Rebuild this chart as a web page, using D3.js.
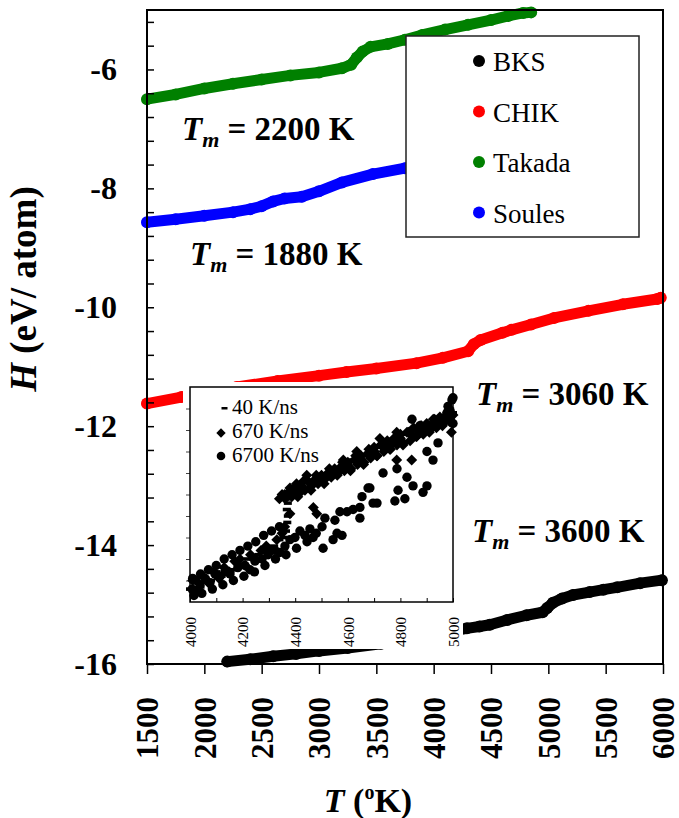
<!DOCTYPE html>
<html>
<head>
<meta charset="utf-8">
<script src="https://cdn.jsdelivr.net/npm/d3@7"></script>
<style>
  html, body { margin: 0; padding: 0; background: #fff; }
  svg { display: block; font-family: "Liberation Serif", "Times New Roman", serif; }
</style>
</head>
<body>
<svg id="chart" width="679" height="818"></svg>
<script>
// ---- data: [T (K), H (eV/atom)] ----
const bks = [[2200,-15.96],[2400,-15.92],[2600,-15.87],[2800,-15.83],[3000,-15.78],[3250,-15.73],
  [3540,-15.66],[3800,-15.58],[4050,-15.49],[4290,-15.40],[4400,-15.37],[4490,-15.34],[4640,-15.26],
  [4810,-15.18],[4950,-15.13],[4990,-15.06],[5040,-14.97],[5120,-14.90],[5215,-14.84],[5360,-14.79],
  [5480,-14.75],[5600,-14.71],[5800,-14.64],[5990,-14.59]];
const chik = [[1500,-11.62],[1800,-11.51],[2100,-11.40],[2285,-11.34],[2640,-11.24],[3000,-11.15],
  [3240,-11.09],[3500,-11.03],[3850,-10.94],[4080,-10.85],[4300,-10.74],[4350,-10.62],[4410,-10.55],
  [4600,-10.43],[4680,-10.38],[4850,-10.29],[5050,-10.18],[5350,-10.06],[5650,-9.95],[5950,-9.86],[5980,-9.84]];
const takada = [[1500,-6.50],[1750,-6.42],[2000,-6.32],[2250,-6.24],[2500,-6.17],[2750,-6.10],
  [3000,-6.05],[3200,-5.98],[3280,-5.92],[3330,-5.80],[3380,-5.70],[3450,-5.62],[3600,-5.57],
  [3750,-5.50],[3900,-5.42],[4100,-5.33],[4300,-5.25],[4500,-5.17],[4650,-5.10],[4780,-5.05],[4850,-5.04]];
const soules = [[1500,-8.57],[1750,-8.52],[2000,-8.46],[2250,-8.40],[2400,-8.35],[2500,-8.30],
  [2600,-8.22],[2700,-8.17],[2850,-8.14],[3000,-8.05],[3200,-7.90],[3470,-7.76],[3750,-7.66],[3900,-7.60]];

const seriesNames = ["BKS", "CHIK", "Takada", "Soules"];
const seriesColors = ["#000000", "#ff0000", "#008000", "#0000ff"];
const meltTemps = ["2200", "1880", "3060", "3600"];

const xTicks = [1500, 2000, 2500, 3000, 3500, 4000, 4500, 5000, 5500, 6000];
const yTickLabels = [-16, -14, -12, -10, -8, -6];

// inset: BKS at three cooling rates
const rateNames = ["40 K/ns", "670 K/ns", "6700 K/ns"];
const rate40 = [[4000,-15.84],[4020,-15.80],[4040,-15.83],[4060,-15.79],[4080,-15.80],[4100,-15.76],
  [4120,-15.78],[4140,-15.75],[4160,-15.75],[4180,-15.72],[4200,-15.73],[4220,-15.70],[4240,-15.70],
  [4260,-15.68],[4280,-15.67],[4300,-15.65],[4320,-15.64],[4340,-15.61],[4355,-15.60],[4365,-15.57],
  [4370,-15.53],[4372,-15.50],[4368,-15.47],[4372,-15.44],[4365,-15.42],[4380,-15.41],[4400,-15.40],
  [4420,-15.38],[4440,-15.37],[4460,-15.35],[4480,-15.34],[4500,-15.32],[4520,-15.31],[4540,-15.29],
  [4560,-15.28],[4580,-15.27],[4600,-15.26],[4620,-15.24],[4640,-15.23],[4660,-15.22],[4680,-15.21],
  [4700,-15.19],[4720,-15.18],[4740,-15.17],[4760,-15.16],[4780,-15.15],[4800,-15.14],[4820,-15.12],
  [4840,-15.11],[4860,-15.10],[4880,-15.09],[4900,-15.08],[4920,-15.07],[4940,-15.06],[4960,-15.05],
  [4980,-15.04],[5000,-15.02]];
const rate670 = [[4010,-15.80],[4030,-15.84],[4050,-15.78],[4070,-15.81],[4090,-15.76],[4110,-15.79],
  [4130,-15.74],[4150,-15.76],[4170,-15.71],[4190,-15.70],[4210,-15.73],[4230,-15.68],[4250,-15.70],
  [4270,-15.66],[4290,-15.64],[4310,-15.66],[4330,-15.61],[4350,-15.58],[4360,-15.55],[4380,-15.49],
  [4340,-15.42],[4360,-15.40],[4390,-15.38],[4405,-15.35],[4420,-15.39],[4444,-15.31],[4460,-15.35],
  [4469,-15.46],[4482,-15.49],[4490,-15.33],[4520,-15.31],[4550,-15.30],[4583,-15.24],[4600,-15.27],
  [4634,-15.20],[4650,-15.24],[4680,-15.21],[4700,-15.20],[4722,-15.14],[4740,-15.17],[4760,-15.16],
  [4786,-15.11],[4786,-15.24],[4800,-15.14],[4843,-15.24],[4840,-15.12],[4870,-15.10],[4900,-15.09],
  [4930,-15.07],[4960,-15.06],[4994,-15.11],[5000,-15.03],
  [4350,-15.40],[4375,-15.39],[4400,-15.37],[4425,-15.36],[4450,-15.34],[4475,-15.33],[4500,-15.31],
  [4525,-15.30],[4550,-15.28],[4575,-15.27],[4600,-15.25],[4625,-15.24],[4650,-15.22],[4675,-15.21],
  [4700,-15.18],[4725,-15.17],[4750,-15.15],[4775,-15.14],[4800,-15.12],[4825,-15.11],[4850,-15.09],
  [4875,-15.08],[4900,-15.07],[4925,-15.05],[4950,-15.04],[4975,-15.03],
  [4410,-15.41],[4460,-15.38],[4510,-15.35],[4560,-15.31],[4610,-15.29],[4660,-15.26],[4710,-15.22],
  [4760,-15.19],[4810,-15.17],[4860,-15.13],[4910,-15.11],[4960,-15.08],
  [4362,-15.42],[4387,-15.41],[4412,-15.39],[4437,-15.38],[4462,-15.36],[4487,-15.35],[4512,-15.33],
  [4537,-15.32],[4562,-15.30],[4587,-15.29],[4612,-15.28],[4637,-15.26],[4662,-15.25],[4687,-15.23],
  [4712,-15.22],[4737,-15.20],[4762,-15.19],[4787,-15.17],[4812,-15.16],[4837,-15.15],[4862,-15.13],
  [4887,-15.12],[4912,-15.10],[4937,-15.09],[4962,-15.07],[4987,-15.06],
  [4380,-15.37],[4430,-15.34],[4480,-15.31],[4530,-15.28],[4580,-15.25],[4630,-15.22],[4680,-15.19],
  [4730,-15.17],[4780,-15.14],[4830,-15.11],[4880,-15.08],[4930,-15.05],[4980,-15.02]];
const rate6700 = [[4008,-15.84],[4023,-15.80],[4038,-15.82],[4057,-15.79],[4076,-15.81],[4095,-15.77],
  [4114,-15.78],[4133,-15.76],[4152,-15.77],[4182,-15.74],[4209,-15.73],[4228,-15.75],[4247,-15.71],
  [4274,-15.70],[4297,-15.68],[4323,-15.66],[4342,-15.67],[4361,-15.64],[4380,-15.61],[4399,-15.60],
  [4418,-15.57],[4437,-15.59],[4456,-15.56],[4468,-15.60],[4502,-15.55],[4506,-15.65],[4513,-15.51],
  [4544,-15.61],[4551,-15.52],[4559,-15.58],[4570,-15.48],[4578,-15.59],[4597,-15.48],[4620,-15.47],
  [4646,-15.46],[4646,-15.51],[4654,-15.41],[4677,-15.37],[4684,-15.37],[4696,-15.44],[4711,-15.44],
  [4734,-15.30],[4779,-15.43],[4787,-15.28],[4791,-15.38],[4817,-15.42],[4825,-15.32],[4848,-15.36],
  [4886,-15.39],[4901,-15.36],[4901,-15.20],[4924,-15.24],[4943,-15.16],[4600,-15.26],[4700,-15.20],
  [4760,-15.17],[4800,-15.15],[4844,-15.05],[4874,-15.08],[4912,-15.08],[4951,-15.05],[4977,-15.02],
  [4981,-14.99],[4989,-15.01],[4996,-14.96],[5000,-14.95],[4990,-15.04],[5000,-15.07],
  [4015,-15.87],[4045,-15.86],[4085,-15.84],[4125,-15.82],[4165,-15.80],[4205,-15.78],[4245,-15.76],
  [4285,-15.73],[4325,-15.70],[4365,-15.68],[4405,-15.65],[4445,-15.62],[4480,-15.58],
  [4010,-15.79],[4040,-15.77],[4070,-15.75],[4100,-15.73],[4130,-15.70],[4160,-15.68],[4190,-15.66],
  [4220,-15.64],[4250,-15.62],[4280,-15.59],[4310,-15.57],[4340,-15.55]];
const insetTicks = [4000, 4100, 4200, 4300, 4400, 4500, 4600, 4700, 4800, 4900, 5000];

// ---- layout ----
const svg = d3.select("#chart");
const width = 679, height = 818;
const margin = {top: 10, right: 16, bottom: 154, left: 147};
const serif = "'Liberation Serif', 'Times New Roman', serif";

const x = d3.scaleLinear().domain([1500, 6000]).range([margin.left, width - margin.right]);
const y = d3.scaleLinear().domain([-16, -5]).range([height - margin.bottom, margin.top]);

// main curves (dense dots drawn as a thick band)
const line = d3.line().x(d => x(d[0])).y(d => y(d[1]));
const allSeries = [bks, chik, takada, soules];
allSeries.forEach((s, i) => {
    svg.append("path")
        .datum(s)
        .attr("fill", "none")
        .attr("stroke", seriesColors[i])
        .attr("stroke-width", 11)
        .attr("stroke-linecap", "round")
        .attr("stroke-linejoin", "round")
        .attr("d", line);
    svg.append("g").selectAll("circle")
        .data(s)
        .join("circle")
        .attr("cx", d => x(d[0]))
        .attr("cy", d => y(d[1]))
        .attr("r", 6)
        .attr("fill", seriesColors[i]);
});

// y axis, ticks pointing inside
const yTicks = d3.range(0, 28).map(i => Math.round((-16 + i * 0.4) * 10) / 10);
const yAxis = svg.append("g")
    .attr("transform", `translate(${margin.left},0)`)
    .call(d3.axisLeft(y).tickValues(yTicks).tickSizeInner(-7).tickSizeOuter(0).tickPadding(30)
        .tickFormat(d => yTickLabels.includes(d) ? String(d) : ""));
yAxis.attr("font-family", serif).attr("font-size", 32).attr("font-weight", "bold");
yAxis.select(".domain").remove();
yAxis.selectAll("line").attr("stroke-width", 1.5);

// x axis, ticks outside, labels rotated
const xAxis = svg.append("g")
    .attr("transform", `translate(0,${height - margin.bottom})`)
    .call(d3.axisBottom(x).tickValues(xTicks).tickSize(10).tickSizeOuter(0).tickFormat(d => String(d)));
xAxis.attr("font-family", serif).attr("font-size", 31).attr("font-weight", "bold");
xAxis.select(".domain").remove();
xAxis.selectAll("line").attr("stroke-width", 1.5);
xAxis.selectAll("text")
    .attr("transform", "rotate(-90)")
    .attr("x", -33).attr("y", 0).attr("dy", "0.35em")
    .style("text-anchor", "end");

// frame
svg.append("rect")
    .attr("x", margin.left).attr("y", margin.top)
    .attr("width", width - margin.right - margin.left)
    .attr("height", height - margin.bottom - margin.top)
    .attr("fill", "none").attr("stroke", "#000").attr("stroke-width", 2);

// axis titles
const xTitle = svg.append("text")
    .attr("x", 368).attr("y", 812)
    .attr("text-anchor", "middle")
    .attr("font-family", serif).attr("font-size", 34).attr("font-weight", "bold");
xTitle.append("tspan").attr("font-style", "italic").text("T");
xTitle.append("tspan").text(" (");
xTitle.append("tspan").attr("font-size", 20).attr("dy", -13).text("o");
xTitle.append("tspan").attr("dy", 13).text("K)");

const yTitle = svg.append("text")
    .attr("transform", "translate(36,289) rotate(-90)")
    .attr("text-anchor", "middle")
    .attr("font-family", serif).attr("font-size", 37).attr("font-weight", "bold");
yTitle.append("tspan").attr("font-style", "italic").text("H");
yTitle.append("tspan").text(" (eV/ atom)");

// ---- inset ----
const inset = svg.append("g");
inset.append("rect")
    .attr("x", 183).attr("y", 382).attr("width", 280).attr("height", 267)
    .attr("fill", "#fff");

const ix = d3.scaleLinear().domain([4000, 5000]).range([190, 453]);
const iy = d3.scaleLinear().domain([-15.9, -14.9]).range([602, 387]);

const ixAxis = inset.append("g")
    .attr("transform", "translate(0,602)")
    .call(d3.axisBottom(ix).tickValues(insetTicks).tickSizeInner(-4).tickSizeOuter(0)
        .tickFormat(d => d % 200 === 0 ? String(d) : ""));
ixAxis.attr("font-family", serif).attr("font-size", 15);
ixAxis.select(".domain").remove();
ixAxis.selectAll("text")
    .attr("transform", "rotate(-90)")
    .attr("x", -15).attr("y", 0).attr("dy", "0.35em")
    .style("text-anchor", "end");

const iyAxis = inset.append("g")
    .attr("transform", "translate(190,0)")
    .call(d3.axisLeft(iy).tickValues(d3.range(1, 10).map(i => -15.9 + i * 0.1)).tickSize(4).tickFormat(""));
iyAxis.select(".domain").remove();
iyAxis.selectAll("line").attr("stroke", "#444");

const diamond = d3.symbol().type(d3.symbolSquare).size(60);

inset.append("g").selectAll("rect")
    .data(rate40)
    .join("rect")
    .attr("x", d => ix(d[0]) - 4)
    .attr("y", d => iy(d[1]) - 1.8)
    .attr("width", 8).attr("height", 3.6)
    .attr("fill", "#000");

inset.append("g").selectAll("path")
    .data(rate670)
    .join("path")
    .attr("d", diamond)
    .attr("transform", d => `translate(${ix(d[0])},${iy(d[1])}) rotate(45)`)
    .attr("fill", "#000");

inset.append("g").selectAll("circle")
    .data(rate6700)
    .join("circle")
    .attr("cx", d => ix(d[0]))
    .attr("cy", d => iy(d[1]))
    .attr("r", 4.7)
    .attr("fill", "#000");

inset.append("rect")
    .attr("x", 190).attr("y", 387).attr("width", 263).attr("height", 215)
    .attr("fill", "none").attr("stroke", "#000").attr("stroke-width", 1.5);

// inset legend
const iLeg = inset.append("g").attr("font-family", serif).attr("font-size", 21);
iLeg.append("rect").attr("x", 221.5).attr("y", 407).attr("width", 6).attr("height", 2.5).attr("fill", "#000");
iLeg.append("path").attr("d", d3.symbol().type(d3.symbolSquare).size(44))
    .attr("transform", "translate(221,433) rotate(45)").attr("fill", "#000");
iLeg.append("circle").attr("cx", 221).attr("cy", 456).attr("r", 4.3).attr("fill", "#000");
iLeg.selectAll("text")
    .data(rateNames)
    .join("text")
    .attr("x", 232)
    .attr("y", (d, i) => 414 + i * 24)
    .text(d => d);

// ---- legend ----
const legend = svg.append("g").attr("font-family", serif).attr("font-size", 27);
legend.append("rect")
    .attr("x", 406).attr("y", 36).attr("width", 233).attr("height", 201)
    .attr("fill", "#fff").attr("stroke", "#222").attr("stroke-width", 1.5);
const items = legend.selectAll("g.item")
    .data(seriesNames)
    .join("g")
    .attr("class", "item")
    .attr("transform", (d, i) => `translate(479,${61 + i * 50.5})`);
items.append("circle").attr("r", 6).attr("fill", (d, i) => seriesColors[i]);
items.append("text").attr("x", 14).attr("y", 10).text(d => d);

// ---- melting temperature notes ----
const notePos = [[1805, -7.19], [1875, -9.29], [4369, -11.64], [4334, -13.95]];
meltTemps.forEach((t, i) => {
    const txt = svg.append("text")
        .attr("x", x(notePos[i][0]))
        .attr("y", y(notePos[i][1]))
        .attr("font-family", serif).attr("font-size", 33).attr("font-weight", "bold");
    txt.append("tspan").attr("font-style", "italic").text("T");
    txt.append("tspan").attr("font-style", "italic").attr("font-size", 22).attr("dy", 7).text("m");
    txt.append("tspan").attr("dy", -7).text(` = ${t} K`);
});
</script>
</body>
</html>
